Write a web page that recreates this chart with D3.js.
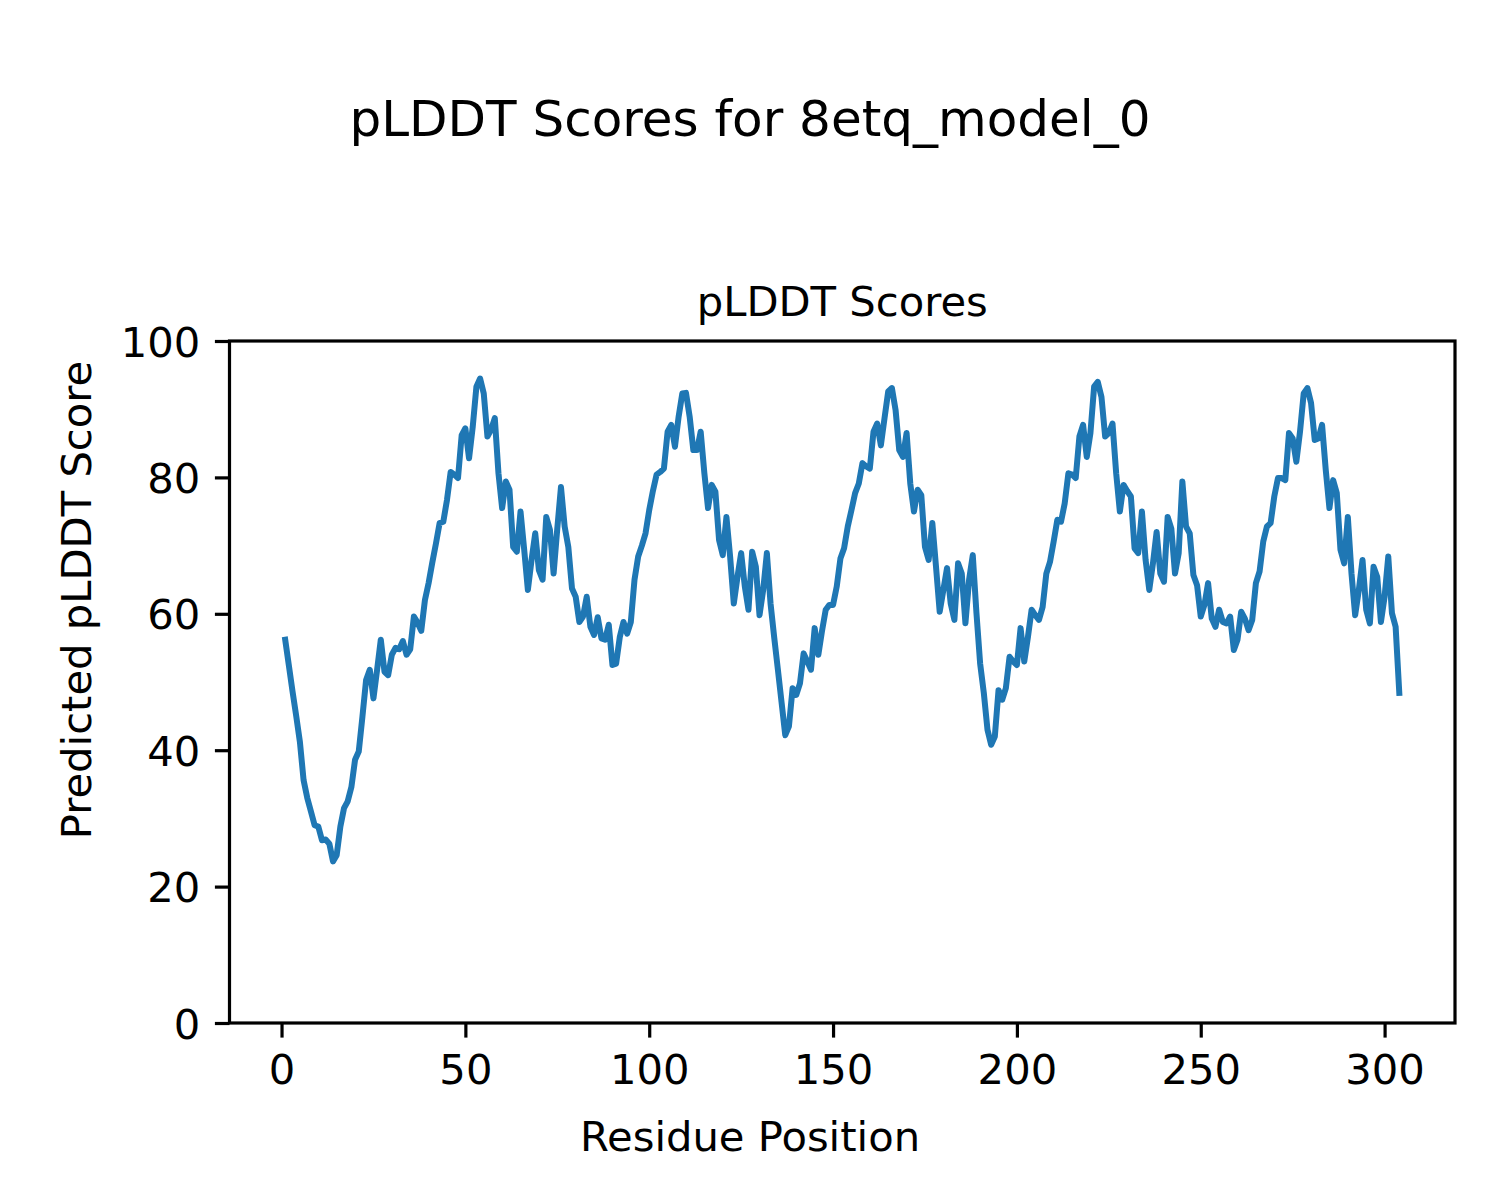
<!DOCTYPE html>
<html>
<head>
<meta charset="utf-8">
<script src="https://cdn.jsdelivr.net/npm/d3@7"></script>
<style>
  html, body { margin: 0; padding: 0; background: #ffffff; }
  svg { display: block; }
  text { font-family: "DejaVu Sans", sans-serif; fill: #000; }
</style>
</head>
<body>
<svg id="chart" width="1500" height="1200"></svg>
<script>
// ---- data ----
const figureTitle = "pLDDT Scores for 8etq_model_0";
const axesTitle = "pLDDT Scores";
const xLabel = "Residue Position";
const yLabel = "Predicted pLDDT Score";
const xTicks = [0, 50, 100, 150, 200, 250, 300];
const yTicks = [0, 20, 40, 60, 80, 100];
const plddt = [
  56.2, 52.4, 48.6, 45.0, 41.2, 35.6, 33.0, 31.0, 29.0, 28.8,
  26.8, 26.9, 26.3, 23.7, 24.6, 28.8, 31.5, 32.5, 34.6, 38.6,
  39.8, 44.9, 50.3, 51.8, 47.6, 51.8, 56.2, 51.5, 51.0, 54.0,
  55.0, 54.8, 56.0, 54.0, 54.8, 59.6, 58.7, 57.5, 62.0, 64.5,
  67.5, 70.3, 73.3, 73.5, 76.7, 80.8, 80.4, 79.9, 86.2, 87.2,
  82.8, 87.4, 93.3, 94.5, 92.3, 86.0, 87.0, 88.7, 80.6, 75.5,
  79.4, 78.2, 69.8, 69.1, 75.0, 69.4, 63.5, 67.9, 71.8, 66.4,
  65.0, 74.2, 72.3, 65.9, 72.5, 78.6, 72.8, 69.8, 63.7, 62.5,
  58.8, 59.6, 62.5, 58.1, 56.9, 59.5, 56.4, 56.2, 58.4, 52.5,
  52.7, 56.6, 58.8, 57.1, 58.8, 65.0, 68.4, 70.0, 71.8, 75.2,
  78.0, 80.4, 80.8, 81.3, 86.7, 87.7, 84.5, 88.9, 92.3, 92.4,
  88.9, 84.0, 84.0, 86.7, 80.6, 75.5, 78.9, 77.9, 70.8, 68.6,
  74.2, 68.4, 61.5, 65.4, 68.9, 64.0, 60.6, 69.1, 66.9, 59.8,
  63.5, 68.9, 61.5, 56.5, 51.8, 47.0, 42.2, 43.5, 49.1, 48.1,
  49.8, 54.2, 53.0, 51.8, 57.9, 54.0, 57.5, 60.6, 61.3, 61.3,
  64.0, 68.1, 69.6, 72.8, 75.2, 77.7, 79.1, 82.1, 81.6, 81.3,
  86.7, 87.9, 84.7, 88.7, 92.6, 93.1, 89.9, 84.0, 83.0, 86.5,
  79.1, 75.0, 78.2, 77.4, 69.8, 67.9, 73.3, 66.9, 60.3, 63.5,
  66.7, 61.5, 59.1, 67.4, 65.9, 58.6, 65.0, 68.6, 60.1, 52.7,
  48.4, 43.0, 40.8, 42.0, 48.8, 47.4, 49.1, 53.7, 53.0, 52.5,
  57.9, 53.0, 56.6, 60.6, 59.8, 59.1, 61.0, 65.9, 67.6, 70.6,
  73.8, 73.5, 76.2, 80.6, 80.4, 79.9, 86.0, 87.7, 83.0, 86.5,
  93.3, 94.0, 91.8, 86.0, 86.5, 87.9, 80.6, 75.0, 78.9, 78.0,
  77.2, 69.6, 68.9, 75.0, 67.9, 63.5, 67.4, 72.0, 65.9, 64.7,
  74.2, 72.5, 65.9, 68.9, 79.4, 72.8, 71.8, 65.7, 64.2, 59.6,
  61.3, 64.5, 59.3, 58.1, 60.6, 58.8, 58.6, 59.6, 54.7, 56.2,
  60.3, 59.3, 57.6, 59.1, 64.5, 66.2, 70.6, 72.8, 73.3, 77.2,
  79.9, 79.9, 79.6, 86.5, 85.7, 82.3, 86.7, 92.3, 93.1, 90.9,
  85.5, 85.7, 87.7, 81.1, 75.5, 79.6, 77.7, 69.4, 67.4, 74.2,
  65.9, 59.8, 63.5, 67.9, 60.6, 58.6, 66.9, 65.4, 58.8, 62.5,
  68.4, 60.1, 58.1, 48.4
];
const residues = plddt.map((_, i) => i + 1);

// ---- layout ----
const svg = d3.select("#chart");
svg.append("rect").attr("width", 1500).attr("height", 1200).attr("fill", "#ffffff");

const plot = { left: 229.5, right: 1455, top: 341, bottom: 1023 };
const n = residues.length;
const span = residues[n - 1] - residues[0];
const x = d3.scaleLinear()
  .domain([residues[0] - 0.05 * span, residues[n - 1] + 0.05 * span])
  .range([plot.left, plot.right]);
const y = d3.scaleLinear().domain([0, 100]).range([plot.bottom, plot.top]);

const fontPx = 41.7;
const tickLen = 14.6;
const tickW = 3.2;

// line
const line = d3.line().x((d, i) => x(residues[i])).y(d => y(d));
svg.append("path")
  .datum(plddt)
  .attr("d", line)
  .attr("fill", "none")
  .attr("stroke", "#1f77b4")
  .attr("stroke-width", 6)
  .attr("stroke-linejoin", "round")
  .attr("stroke-linecap", "square");

// axes
const xAxis = d3.axisBottom(x).tickValues(xTicks).tickSize(tickLen).tickPadding(14.6).tickFormat(d3.format("d"));
const yAxis = d3.axisLeft(y).tickValues(yTicks).tickSize(tickLen).tickPadding(14.6).tickFormat(d3.format("d"));

const gx = svg.append("g").attr("transform", `translate(0,${plot.bottom})`).call(xAxis);
const gy = svg.append("g").attr("transform", `translate(${plot.left},0)`).call(yAxis);
[gx, gy].forEach(g => {
  g.select(".domain").remove();
  g.selectAll(".tick line").attr("stroke", "#000").attr("stroke-width", tickW);
  g.selectAll(".tick text")
    .attr("fill", "#000")
    .style("font-family", "'DejaVu Sans', sans-serif")
    .style("font-size", fontPx + "px");
});
gx.selectAll(".tick text").attr("dy", "0.76em");
gy.selectAll(".tick text").attr("dy", "0.36em");

// frame (spines)
svg.append("rect")
  .attr("x", plot.left).attr("y", plot.top)
  .attr("width", plot.right - plot.left).attr("height", plot.bottom - plot.top)
  .attr("fill", "none").attr("stroke", "#000").attr("stroke-width", 3.2);

// titles and labels
svg.append("text")
  .attr("x", 750).attr("y", 136)
  .attr("text-anchor", "middle")
  .style("font-size", "50px")
  .text(figureTitle);

svg.append("text")
  .attr("x", (plot.left + plot.right) / 2).attr("y", 316)
  .attr("text-anchor", "middle")
  .style("font-size", fontPx + "px")
  .text(axesTitle);

svg.append("text")
  .attr("x", 750).attr("y", 1151)
  .attr("text-anchor", "middle")
  .style("font-size", fontPx + "px")
  .text(xLabel);

svg.append("text")
  .attr("transform", `translate(91,600) rotate(-90)`)
  .attr("text-anchor", "middle")
  .style("font-size", fontPx + "px")
  .text(yLabel);
</script>
</body>
</html>
